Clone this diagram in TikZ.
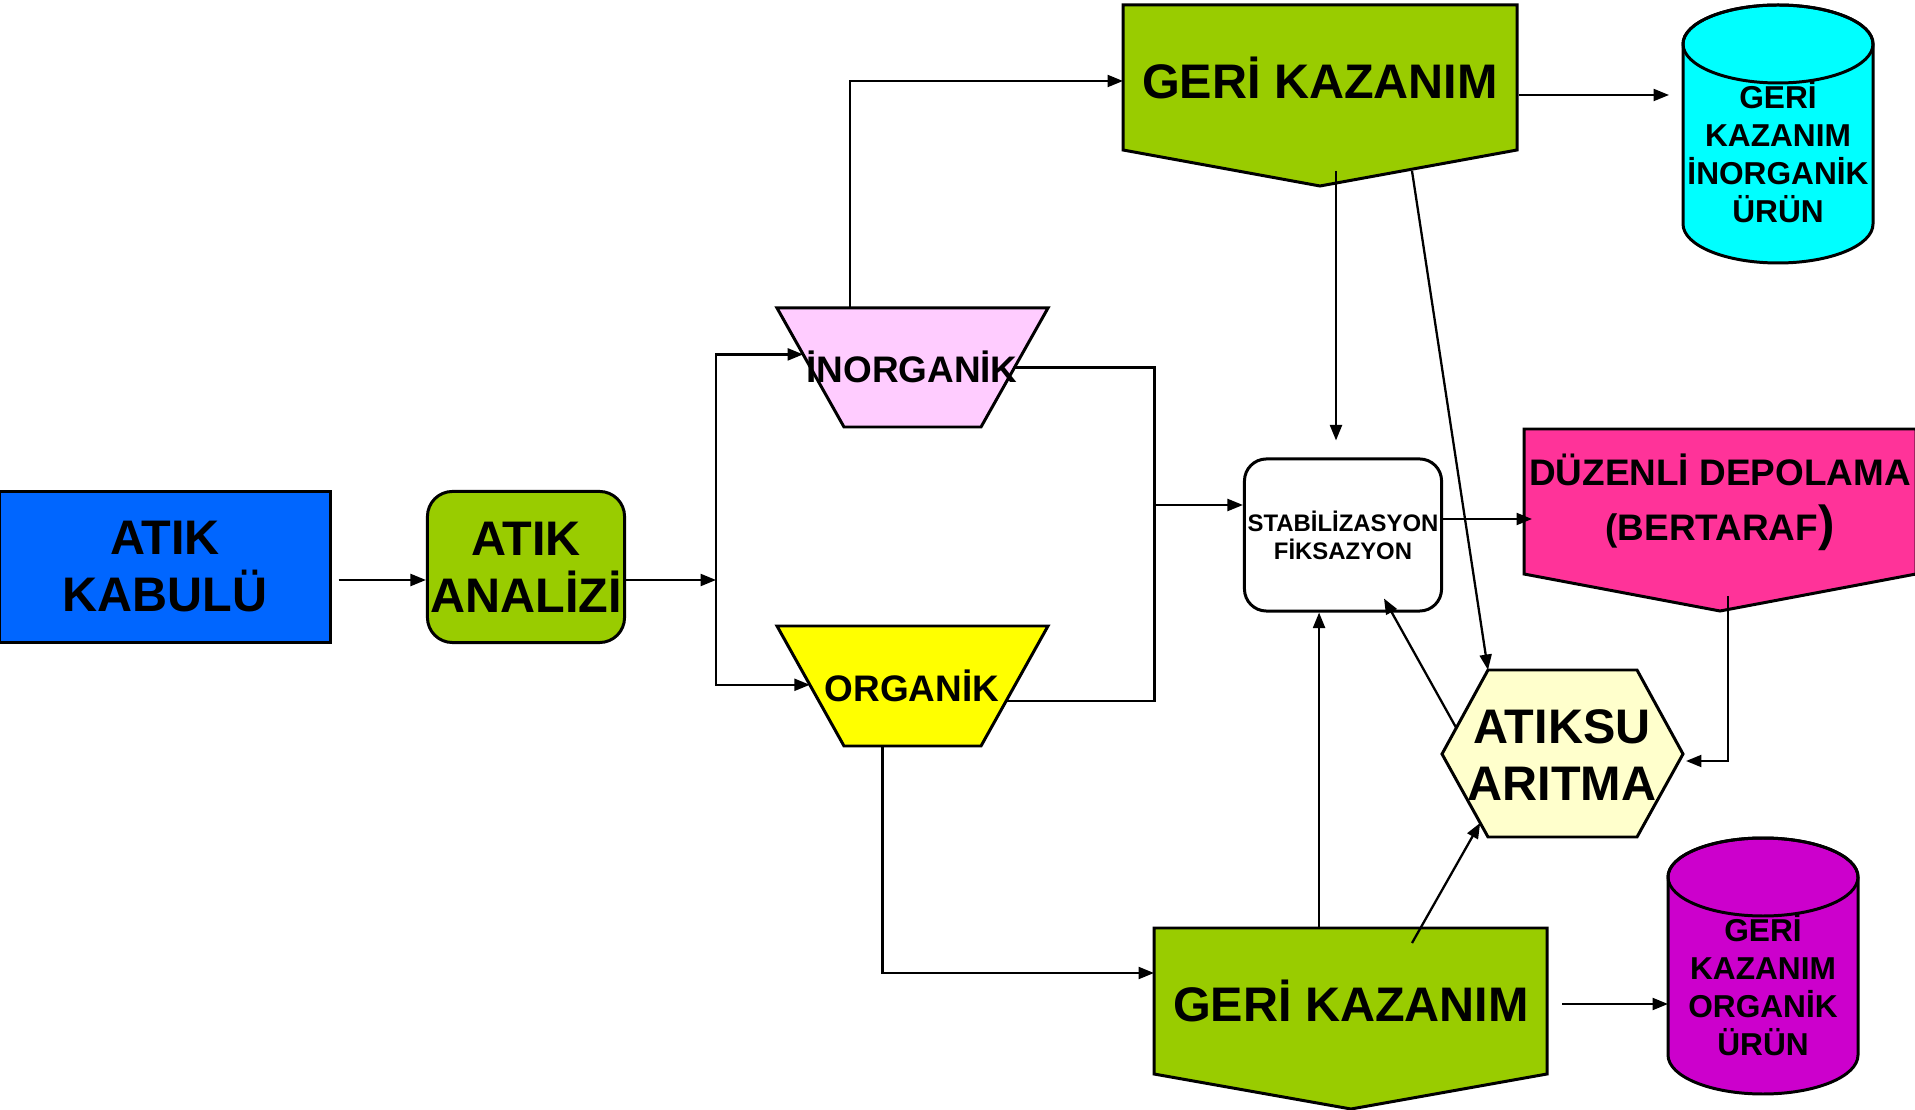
\documentclass[tikz,border=0pt]{standalone}
\usepackage{fontspec}
\setmainfont{Liberation Sans}
\usetikzlibrary{arrows.meta,calc}

\definecolor{kabulblue}{RGB}{0,102,255}
\definecolor{leafgreen}{RGB}{153,204,0}
\definecolor{softpink}{RGB}{255,204,255}
\definecolor{brightyellow}{RGB}{255,255,0}
\definecolor{cyanfill}{RGB}{0,255,255}
\definecolor{hotpink}{RGB}{255,51,153}
\definecolor{paleyellow}{RGB}{255,255,204}
\definecolor{purplefill}{RGB}{204,0,204}

\begin{document}
\begin{tikzpicture}[x=0.01cm,y=-0.01cm,>={Triangle[length=4.4pt,width=3.4pt]},
  link/.style={line width=0.65pt},
  outline/.style={draw=black,line width=0.85pt},
  bigtext/.style={font=\bfseries\fontsize{13.8}{16.2}\selectfont,align=center},
  midtext/.style={font=\bfseries\fontsize{10.5}{15.6}\selectfont,align=center},
  smalltext/.style={font=\bfseries\fontsize{9}{10.8}\selectfont,align=center},
  tinytext/.style={font=\bfseries\fontsize{6.8}{7.9}\selectfont,align=center}]
\useasboundingbox (0,0) rectangle (1915,1110);

% boxes on the left
\node[outline,fill=kabulblue,minimum width=3.3cm,minimum height=1.51cm,inner sep=0,bigtext] (kabul) at (165,567) {ATIK\\KABULÜ};
\node[outline,fill=leafgreen,rounded corners=0.25cm,minimum width=1.97cm,minimum height=1.51cm,inner sep=0,bigtext] (analiz) at (526,567) {ATIK\\ANALİZİ};

% trapezia
\filldraw[outline,fill=softpink] (777,308) coordinate (inorg-tl) -- (1048,308) coordinate (inorg-tr)
  -- (981,427) coordinate (inorg-br) -- (844,427) coordinate (inorg-bl) -- cycle;
\filldraw[outline,fill=brightyellow] (777,626) coordinate (org-tl) -- (1048,626) coordinate (org-tr)
  -- (981,746) coordinate (org-br) -- (844,746) coordinate (org-bl) -- cycle;
\node[midtext] (inorg) at (912,367) {İNORGANİK};
\node[midtext] (org) at (912,686) {ORGANİK};

% recovery blocks
\filldraw[outline,fill=leafgreen] (1123,5) coordinate (gu-tl) -- (1517,5) coordinate (gu-tr)
  -- (1517,150) -- (1320,186) coordinate (gu-tip) -- (1123,150) -- cycle;
\node[bigtext] (geriust) at (1320,78) {GERİ KAZANIM};
\filldraw[outline,fill=leafgreen] (1154,928) coordinate (ga-tl) -- (1547,928) coordinate (ga-tr)
  -- (1547,1074) -- (1351,1109) coordinate (ga-tip) -- (1154,1074) -- cycle;
\node[bigtext] (gerialt) at (1351,1001) {GERİ KAZANIM};

% product cylinders
\filldraw[outline,fill=cyanfill] (1683,44) coordinate (uu-lt) -- (1683,224)
  arc[start angle=180,end angle=0,x radius=95,y radius=39] -- (1873,44)
  arc[start angle=0,end angle=-180,x radius=95,y radius=39] -- cycle;
\draw[outline] (1778,44) ellipse [x radius=95,y radius=39];
\node[smalltext] (urunust) at (1778,152) {GERİ\\KAZANIM\\İNORGANİK\\ÜRÜN};
\filldraw[outline,fill=purplefill] (1668,877) coordinate (ua-lt) -- (1668,1055)
  arc[start angle=180,end angle=0,x radius=95,y radius=39] -- (1858,877)
  arc[start angle=0,end angle=-180,x radius=95,y radius=39] -- cycle;
\draw[outline] (1763,877) ellipse [x radius=95,y radius=39];
\node[smalltext] (urunalt) at (1763,985) {GERİ\\KAZANIM\\ORGANİK\\ÜRÜN};

% stabilisation, landfill, wastewater
\node[outline,fill=white,rounded corners=0.22cm,minimum width=1.97cm,minimum height=1.52cm,inner sep=0,tinytext] (stab) at (1343,535) {STABİLİZASYON\\FİKSAZYON};
\filldraw[outline,fill=hotpink] (1524,429) coordinate (dp-tl) -- (1916,429) -- (1916,574)
  -- (1720,611) coordinate (dp-tip) -- (1524,574) -- cycle;
\node[midtext] (depo) at (1720,502) {DÜZENLİ DEPOLAMA\\(BERTARAF{\fontsize{14}{14}\selectfont)}};
\filldraw[outline,fill=paleyellow] (1488,670) coordinate (atk-tl) -- (1637,670) coordinate (atk-tr)
  -- (1683,754) coordinate (atk-r) -- (1637,837) coordinate (atk-br) -- (1488,837) coordinate (atk-bl)
  -- (1442,754) coordinate (atk-l) -- cycle;
\node[bigtext] (atiksu) at (1562,755) {ATIKSU\\ARITMA};

% connectors
\draw[link,->] ($(kabul.east)+(7,13)$) -- ($(analiz.west)+(0,13)$);
\draw[link,->] ($(analiz.east)+(0,13)$) -- ++(90,0) coordinate (dal);
\draw[link,->] (dal) |- ($(inorg-tl)!0.39!(inorg-bl)$);
\draw[link,->] (dal) |- ($(org-tl)!0.49!(org-bl)$);
\draw[link,->] ($(inorg-tl)!0.27!(inorg-tr)$) |- ($(gu-tl)+(0,76)$);
\draw[link] ($(inorg-tr)!0.5!(inorg-br)$) -- ++(140,0) coordinate (kol) |- ($(org-tr)!0.625!(org-br)$);
\coordinate (stab-in) at ($(stab.west)+(0,-30)$);
\draw[link,->] (kol |- stab-in) -- (stab-in);
\draw[link,->] ($(gu-tr)+(2,90)$) -- ($(uu-lt)+(-14,51)$);
\draw[link,->] ($(geriust)+(16,93)$) -- ($(stab.north)+(-7,-17)$);
\draw[link,->] ($(geriust)+(92,93)$) -- (atk-tl);
\draw[link,->] ($(stab.east)+(0,-16)$) -- ($(dp-tl)+(8,90)$);
\draw[link,->] ($(dp-tip)+(8,-15)$) |- ($(atk-r)+(3,7)$);
\draw[link,->] ($(atk-l)!0.31!(atk-tl)$) -- ($(stab.south)+(41,-14)$);
\coordinate (ga-up) at ($(ga-tl)!0.42!(ga-tr)$);
\draw[link,->] (ga-up) -- (ga-up |- stab.south);
\draw[link,->] ($(gerialt)+(61,-58)$) -- ($(atk-bl)!0.17!(atk-l)$);
\draw[link,->] ($(org-bl)!0.28!(org-br)$) |- ($(ga-tl)+(0,45)$);
\draw[link,->] ($(ga-tr)+(15,76)$) -- ($(ua-lt)+(0,127)$);
\end{tikzpicture}
\end{document}
